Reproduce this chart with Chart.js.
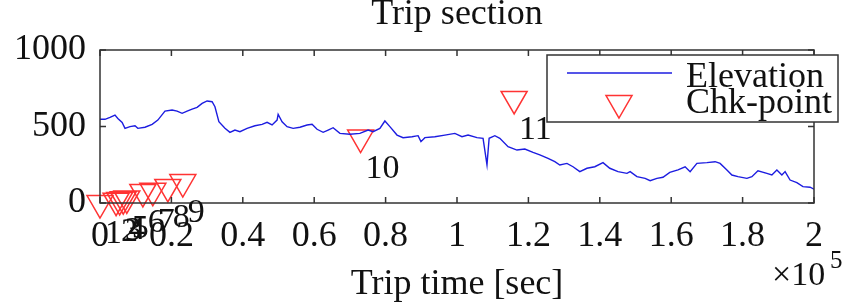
<!DOCTYPE html>
<html>
<head>
<meta charset="utf-8">
<script src="https://cdn.jsdelivr.net/npm/chart.js@4.4.0/dist/chart.umd.min.js"></script>
<style>
  body { margin: 0; background: #fff; }
  #wrap { width: 847px; height: 304px; }
</style>
</head>
<body>
<div id="wrap"><canvas id="tripChart" width="847" height="304"></canvas></div>
<script>
// Elevation trace (trip time in sec, elevation)
const tripTime = [0, 1400, 2800, 4200, 5000, 6200, 7000, 8400, 9800, 10600, 12600, 14600, 16200, 18200,
  20200, 21600, 23000, 24400, 25800, 27200, 28600, 30000, 31400, 32200, 33300, 35000, 36400, 37800,
  39200, 41200, 43400, 45400, 46800, 48200, 49600, 49900, 51000, 52400, 54100, 56000, 58000, 59400,
  60800, 62500, 63900, 65300, 67200, 70000, 72800, 75100, 76500, 78400, 79800, 81200, 83200, 84900,
  87400, 89100, 89900, 91000, 93800, 96600, 99400, 101400, 103100, 105600, 107300, 108400, 109000,
  110600, 112000, 114300, 116800, 119000, 121300, 123200, 125500, 127400, 128800, 130800, 132500,
  134400, 136400, 138600, 140900, 142800, 145100, 147600, 148500, 150400, 152700, 154100, 156000,
  157700, 159600, 161900, 163900, 165300, 167200, 170000, 172300, 173700, 175600, 177000, 178700,
  181200, 182600, 184300, 186800, 188200, 189600, 191000, 191900, 193300, 195200, 196900, 198900, 200000];
const elevation = [547, 547, 560, 575, 553, 527, 488, 499, 505, 488, 495, 514, 542, 601,
  608, 601, 586, 601, 614, 625, 651, 667, 662, 629, 531, 488, 462, 477,
  466, 488, 505, 514, 527, 510, 542, 580, 531, 499, 488, 495, 510, 514,
  482, 462, 477, 492, 455, 449, 455, 477, 466, 488, 536, 499, 444, 427,
  433, 440, 401, 427, 433, 444, 455, 433, 444, 427, 423, 250, 423,
  440, 423, 368, 346, 353, 331, 314, 292, 270, 248, 259, 237,
  205, 227, 237, 264, 227, 205, 194, 205, 172, 161, 146, 161,
  168, 200, 216, 237, 205, 259, 264, 270, 259, 216, 183, 172,
  161, 172, 211, 194, 183, 216, 183, 205, 150, 133, 107, 103, 90];

// Check points
const chkTime = [0, 4500, 5500, 6500, 7500, 12000, 14800, 19000, 23200, 73000, 116000];
const chkElev = [0, 15, 20, 25, 30, 72, 80, 105, 137, 428, 680];
const chkLabels = ['1', '2', '3', '4', '5', '6', '7', '8', '9', '10', '11'];

// Axis ticks
const xTicks = [0, 20000, 40000, 60000, 80000, 100000, 120000, 140000, 160000, 180000, 200000];
const yTicks = [0, 500, 1000];

const serif = "'Liberation Serif', 'Times New Roman', serif";
const lineColor = '#1c1ce0';
const chkColor = '#ff3333';

// Frame, inward ticks, point labels, titles and legend
const decorPlugin = {
    id: 'decor',
    afterDatasetsDraw(chart) {
        const ctx = chart.ctx;
        const a = chart.chartArea;
        const xs = chart.scales.x;
        const ys = chart.scales.y;
        ctx.save();

        // box + ticks
        ctx.strokeStyle = '#333';
        ctx.lineWidth = 1.5;
        ctx.strokeRect(a.left, a.top, a.right - a.left, a.bottom - a.top);
        ctx.beginPath();
        xTicks.forEach(function (t) {
            const px = xs.getPixelForValue(t);
            ctx.moveTo(px, a.bottom); ctx.lineTo(px, a.bottom - 6);
            ctx.moveTo(px, a.top); ctx.lineTo(px, a.top + 6);
        });
        yTicks.forEach(function (t) {
            const py = ys.getPixelForValue(t);
            ctx.moveTo(a.left, py); ctx.lineTo(a.left + 6, py);
            ctx.moveTo(a.right, py); ctx.lineTo(a.right - 6, py);
        });
        ctx.stroke();

        // checkpoint numbers
        ctx.fillStyle = '#111';
        ctx.font = '34px ' + serif;
        ctx.textAlign = 'left';
        ctx.textBaseline = 'alphabetic';
        const meta = chart.getDatasetMeta(1);
        meta.data.forEach(function (pt, i) {
            ctx.fillText(chkLabels[i], pt.x + 5, pt.y + 40);
        });

        // title
        ctx.textAlign = 'center';
        ctx.font = '36px ' + serif;
        ctx.fillText('Trip section', (a.left + a.right) / 2, 24);
        ctx.fillText('Trip time [sec]', (a.left + a.right) / 2, 294);

        // x10^5
        ctx.textAlign = 'left';
        ctx.font = '34px ' + serif;
        ctx.fillText('\u00d710', 772, 285);
        ctx.font = '25px ' + serif;
        ctx.fillText('5', 830, 268);

        // legend
        const lx = 547, ly = 55, lw = 291, lh = 67;
        ctx.fillStyle = '#fff';
        ctx.fillRect(lx, ly, lw, lh);
        ctx.strokeStyle = '#333';
        ctx.lineWidth = 1.5;
        ctx.strokeRect(lx, ly, lw, lh);
        ctx.strokeStyle = lineColor;
        ctx.lineWidth = 1.3;
        ctx.beginPath();
        ctx.moveTo(567, 73); ctx.lineTo(672, 73);
        ctx.stroke();
        const cx = 619, cy = 103, r = 15;
        ctx.strokeStyle = chkColor;
        ctx.lineWidth = 1.5;
        ctx.beginPath();
        ctx.moveTo(cx, cy + r);
        ctx.lineTo(cx - r * Math.sin(Math.PI / 3), cy - r / 2);
        ctx.lineTo(cx + r * Math.sin(Math.PI / 3), cy - r / 2);
        ctx.closePath();
        ctx.stroke();
        ctx.fillStyle = '#111';
        ctx.font = '36px ' + serif;
        ctx.fillText('Elevation', 686, 87);
        ctx.fillText('Chk-point', 686, 113);

        ctx.restore();
    }
};

const ctx = document.getElementById('tripChart').getContext('2d');
const tripChart = new Chart(ctx, {
    type: 'scatter',
    data: {
        datasets: [{
            label: 'Elevation',
            data: tripTime.map(function (t, i) { return { x: t, y: elevation[i] }; }),
            showLine: true,
            borderColor: lineColor,
            borderWidth: 1.4,
            pointRadius: 0,
            tension: 0
        }, {
            label: 'Chk-point',
            data: chkTime.map(function (t, i) { return { x: t, y: chkElev[i] }; }),
            pointStyle: 'triangle',
            rotation: 180,
            pointRadius: 15,
            borderColor: chkColor,
            backgroundColor: 'rgba(0,0,0,0)',
            borderWidth: 1.5,
            clip: false
        }]
    },
    options: {
        responsive: false,
        animation: false,
        events: [],
        layout: { padding: { top: 50, right: 33, left: 0, bottom: 0 } },
        plugins: {
            legend: { display: false },
            tooltip: { enabled: false }
        },
        scales: {
            x: {
                type: 'linear',
                min: 0,
                max: 200000,
                afterFit: function (scale) { scale.height = 101; },
                afterBuildTicks: function (scale) {
                    scale.ticks = xTicks.map(function (v) { return { value: v }; });
                },
                grid: { display: false, drawTicks: false },
                border: { display: false },
                ticks: {
                    padding: 12,
                    maxRotation: 0,
                    autoSkip: false,
                    color: '#111',
                    font: { family: serif, size: 36 },
                    callback: function (v) { return String(+(v / 1e5).toFixed(1)); }
                }
            },
            y: {
                min: 0,
                max: 1000,
                afterFit: function (scale) { scale.width = 100; },
                afterBuildTicks: function (scale) {
                    scale.ticks = yTicks.map(function (v) { return { value: v }; });
                },
                grid: { display: false, drawTicks: false },
                border: { display: false },
                ticks: {
                    padding: 14,
                    color: '#111',
                    font: { family: serif, size: 36 },
                    callback: function (v) { return String(v); }
                }
            }
        }
    },
    plugins: [decorPlugin]
});
</script>
</body>
</html>
